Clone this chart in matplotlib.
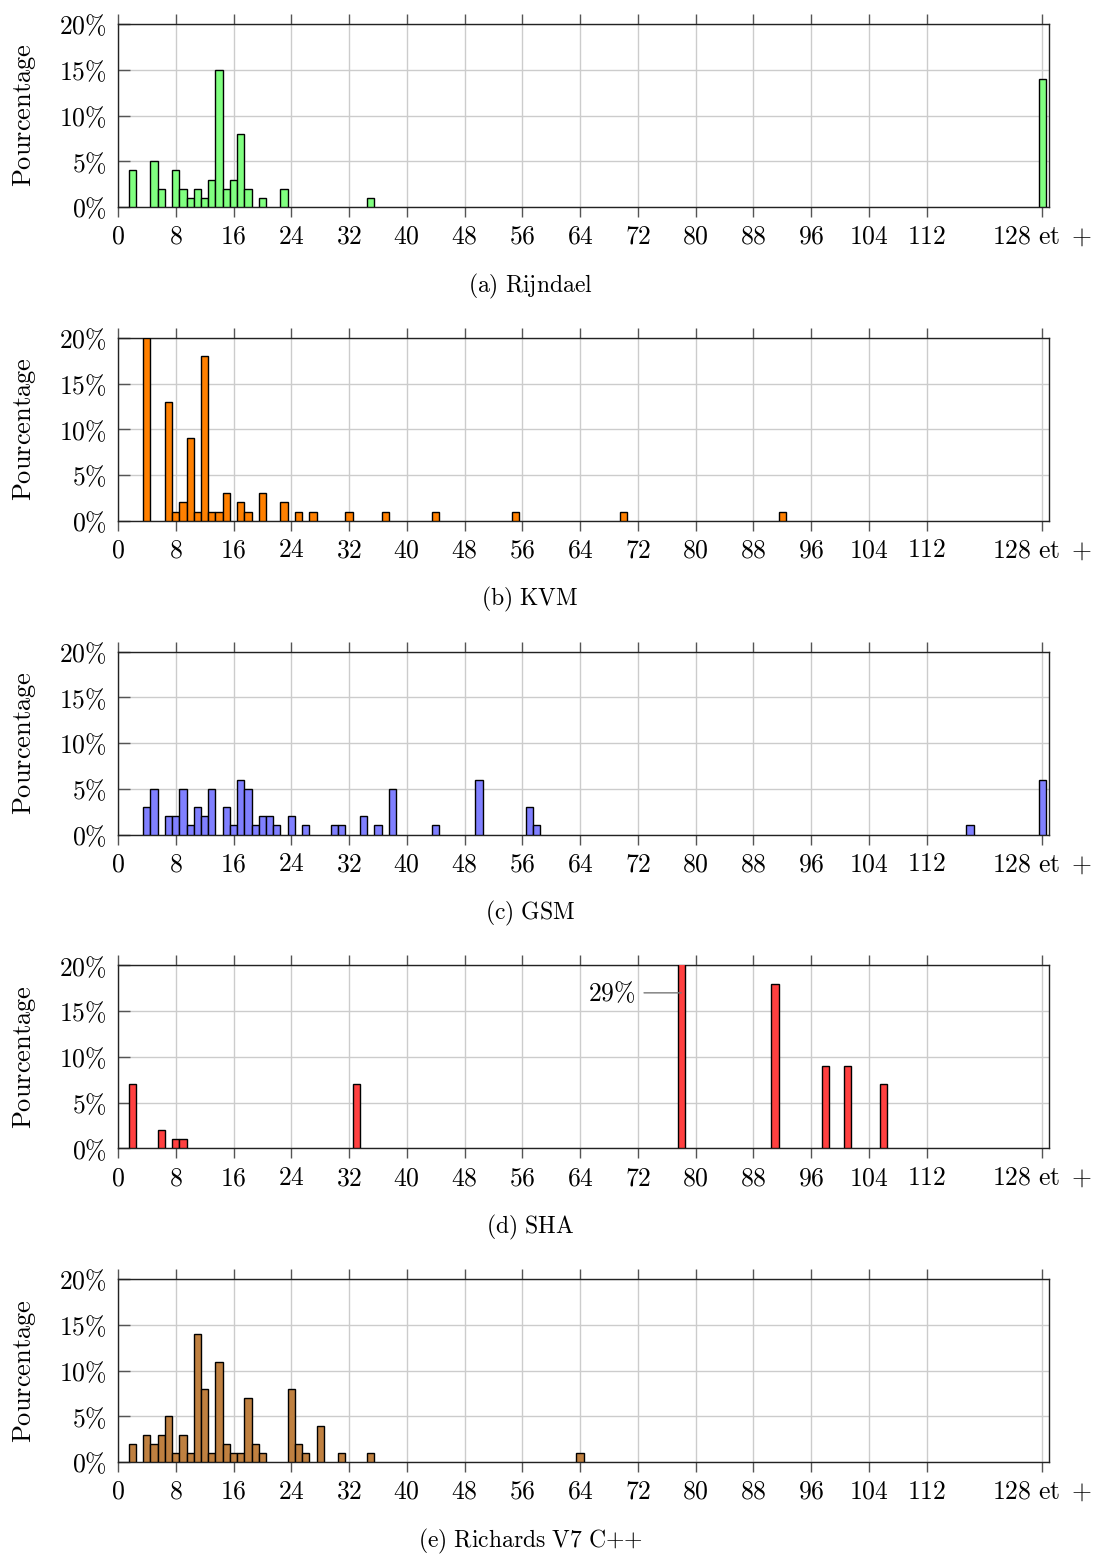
import matplotlib
matplotlib.use("Agg")
import matplotlib.pyplot as plt

plt.rcParams['mathtext.fontset'] = 'cm'
plt.rcParams['font.family'] = ['DejaVu Serif']

# ---- data ----
rijndael_x = [2, 5, 6, 8, 9, 10, 11, 12, 13, 14, 15, 16, 17, 18, 20, 23, 35, 128]
rijndael_y = [4, 5, 2, 4, 2, 1, 2, 1, 3, 15, 2, 3, 8, 2, 1, 2, 1, 14]

kvm_x = [4, 7, 8, 9, 10, 11, 12, 13, 14, 15, 17, 18, 20, 23, 25, 27, 32, 37, 44, 55, 70, 92]
kvm_y = [20, 13, 1, 2, 9, 1, 18, 1, 1, 3, 2, 1, 3, 2, 1, 1, 1, 1, 1, 1, 1, 1]

gsm_x = [4, 5, 7, 8, 9, 10, 11, 12, 13, 15, 16, 17, 18, 19, 20, 21, 22, 24, 26, 30, 31,
         34, 36, 38, 44, 50, 57, 58, 118, 128]
gsm_y = [3, 5, 2, 2, 5, 1, 3, 2, 5, 3, 1, 6, 5, 1, 2, 2, 1, 2, 1, 1, 1,
         2, 1, 5, 1, 6, 3, 1, 1, 6]

sha_x = [2, 6, 8, 9, 33, 78, 91, 98, 101, 106]
sha_y = [7, 2, 1, 1, 7, 29, 18, 9, 9, 7]

richards_x = [2, 4, 5, 6, 7, 8, 9, 10, 11, 12, 13, 14, 15, 16, 17, 18, 19, 20, 24, 25, 26, 28, 31, 35, 64]
richards_y = [2, 3, 2, 3, 5, 1, 3, 1, 14, 8, 1, 11, 2, 1, 1, 7, 2, 1, 8, 2, 1, 4, 1, 1, 1]

captions = [r'$\mathrm{(a)\ Rijndael}$', r'$\mathrm{(b)\ KVM}$', r'$\mathrm{(c)\ GSM}$',
            r'$\mathrm{(d)\ SHA}$', r'$\mathrm{(e)\ Richards\ V7\ C{+}{+}}$']
colors = ['#80ff80', '#ff8000', '#8080ff', '#ff4040', '#bf8040']

xtick_vals = [0, 8, 16, 24, 32, 40, 48, 56, 64, 72, 80, 88, 96, 104, 112, 128]
xtick_labels = [r'$%d$' % v for v in xtick_vals[:-1]] + [r'$\mathrm{128\ et}\ +$']
ytick_vals = [0, 5, 10, 15, 20]
ytick_labels = [r'$%d\%%$' % v for v in ytick_vals]

annot_text = r'$29\%$'
annot_x, annot_y = 78, 17

series = [(rijndael_x, rijndael_y), (kvm_x, kvm_y), (gsm_x, gsm_y),
          (sha_x, sha_y), (richards_x, richards_y)]

W, H = 1094, 1555
fig = plt.figure(figsize=(W / 100, H / 100), dpi=100)

left_px, right_px = 118, 1048.7
ax_h_px = 183
FS = 18.5

for i, ((xs, ys), col, cap) in enumerate(zip(series, colors, captions)):
    top_px = 24 + i * 313.8
    ax = fig.add_axes([left_px / W, 1 - (top_px + ax_h_px) / H,
                       (right_px - left_px) / W, ax_h_px / H])
    ax.bar(xs, ys, width=1.0, color=col, edgecolor='black', linewidth=1.0, zorder=3)
    ax.set_xlim(0, 128.9)
    ax.set_ylim(0, 20)
    ax.set_xticks(xtick_vals)
    ax.set_xticklabels(xtick_labels, fontsize=FS)
    ax.set_yticks(ytick_vals)
    ax.set_yticklabels(ytick_labels, fontsize=FS)
    ax.grid(True, color='#cccccc', linewidth=1.0, zorder=0)
    ax.set_axisbelow(True)
    ax.tick_params(axis='x', direction='out', length=7, width=1.0, color='#555555',
                   top=True, pad=5)
    ax.tick_params(axis='y', direction='in', length=8.5, width=1.0, color='#555555',
                   pad=8)
    for sp in ax.spines.values():
        sp.set_color('#222222')
        sp.set_linewidth(1.0)
    ax.set_ylabel(r'$\mathrm{Pourcentage}$', fontsize=FS + 0.5)
    ax.yaxis.label.set_verticalalignment('center')
    ax.yaxis.set_label_coords((24 - left_px) / (right_px - left_px), 0.5)
    if i == 3:
        ax.annotate(annot_text, xy=(annot_x, annot_y), xytext=(annot_x - 6.3, annot_y),
                    fontsize=FS, ha='right', va='center',
                    arrowprops=dict(arrowstyle='-', color='#777777', lw=1.0,
                                    shrinkA=4, shrinkB=0))
    fig.text(530 / W, 1 - (top_px + 262) / H, cap, fontsize=17, ha='center', va='center')

fig.savefig('out.png', dpi=100)
